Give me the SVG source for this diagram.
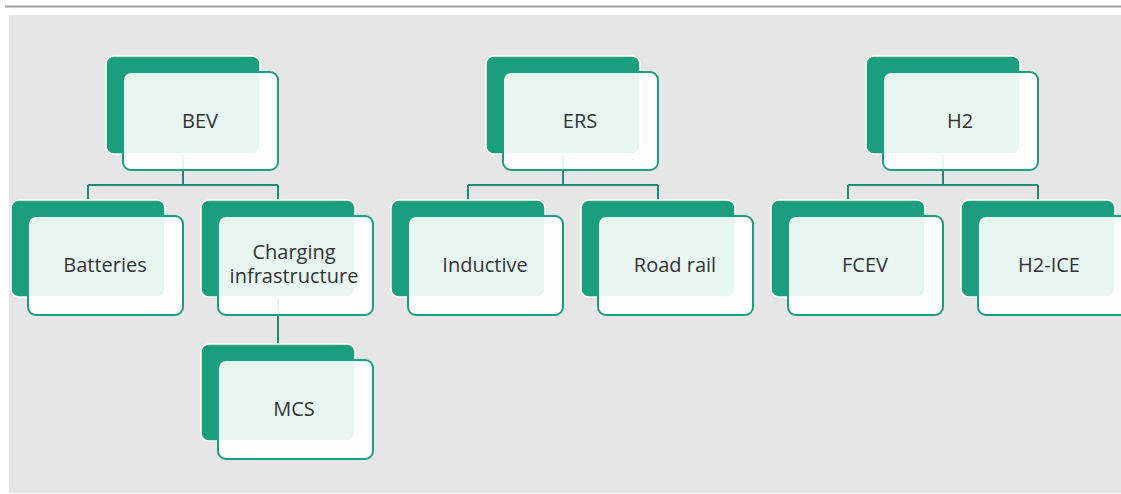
<svg xmlns="http://www.w3.org/2000/svg" width="1121" height="494" viewBox="0 0 1121 494">
<defs>
<style>
.bg{fill:#e6e6e6}
.back{fill:#1a9e7e;stroke:#ffffff;stroke-width:1.5}
.front{fill:#ffffff;fill-opacity:0.9;stroke:#1a9e7e;stroke-width:2}
.conn{fill:none;stroke:#1b8c72;stroke-width:2}
.lbl{font-family:"Open Sans","Noto Sans",sans-serif;font-size:20px;fill:#333333;text-anchor:middle}
</style>
</defs>
<line x1="5" y1="6.5" x2="1121" y2="6.5" stroke="#a0a0a0" stroke-width="2"/>
<rect class="bg" x="9" y="15" width="1112" height="478"/>
<g id="connectors">
<path class="conn" d="M183 154V185M88 185H278M88 185V200M278 185V200"/>
<path class="conn" d="M563 154V185M468 185H658M468 185V200M658 185V200"/>
<path class="conn" d="M943 154V185M848 185H1038M848 185V200M1038 185V200"/>
<path class="conn" d="M278 297V344"/>
</g>
<g id="BEV">
<rect class="back" x="106" y="56" width="154" height="98" rx="8"/>
<rect class="front" x="123" y="72" width="155" height="98" rx="8"/>
<text class="lbl" x="200" y="128">BEV</text>
</g>
<g id="ERS">
<rect class="back" x="486" y="56" width="154" height="98" rx="8"/>
<rect class="front" x="503" y="72" width="155" height="98" rx="8"/>
<text class="lbl" x="580" y="128">ERS</text>
</g>
<g id="H2">
<rect class="back" x="866" y="56" width="154" height="98" rx="8"/>
<rect class="front" x="883" y="72" width="155" height="98" rx="8"/>
<text class="lbl" x="960" y="128">H2</text>
</g>
<g id="Batteries">
<rect class="back" x="11" y="200" width="154" height="97" rx="8"/>
<rect class="front" x="28" y="216" width="155" height="99" rx="8"/>
<text class="lbl" x="105" y="272">Batteries</text>
</g>
<g id="Charging">
<rect class="back" x="201" y="200" width="154" height="97" rx="8"/>
<rect class="front" x="218" y="216" width="155" height="99" rx="8"/>
<text class="lbl" x="294" y="259">Charging</text>
<text class="lbl" x="294" y="283">infrastructure</text>
</g>
<g id="Inductive">
<rect class="back" x="391" y="200" width="154" height="97" rx="8"/>
<rect class="front" x="408" y="216" width="155" height="99" rx="8"/>
<text class="lbl" x="485" y="272">Inductive</text>
</g>
<g id="RoadRail">
<rect class="back" x="581" y="200" width="154" height="97" rx="8"/>
<rect class="front" x="598" y="216" width="155" height="99" rx="8"/>
<text class="lbl" x="675" y="272">Road rail</text>
</g>
<g id="FCEV">
<rect class="back" x="771" y="200" width="154" height="97" rx="8"/>
<rect class="front" x="788" y="216" width="155" height="99" rx="8"/>
<text class="lbl" x="865" y="272">FCEV</text>
</g>
<g id="H2ICE">
<rect class="back" x="961" y="200" width="154" height="97" rx="8"/>
<rect class="front" x="978" y="216" width="155" height="99" rx="8"/>
<text class="lbl" x="1049" y="272">H2-ICE</text>
</g>
<g id="MCS">
<rect class="back" x="201" y="344" width="154" height="97" rx="8"/>
<rect class="front" x="218" y="360" width="155" height="99" rx="8"/>
<text class="lbl" x="294" y="416">MCS</text>
</g>
</svg>
